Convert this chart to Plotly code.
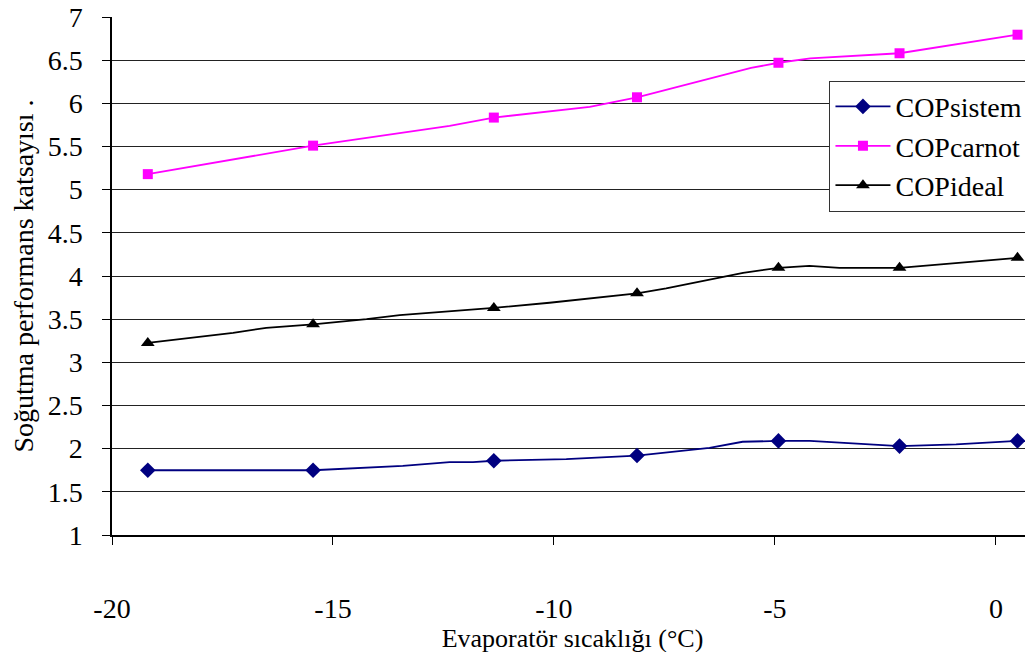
import plotly.graph_objects as go

# Evaporator temperature (°C) at marked points
x_marks = [-19.19, -15.45, -11.36, -8.12, -4.92, -2.18, 0.49]

# COPsistem
sistem_x_line = [-19.19, -15.45, -13.42, -12.36, -11.83, -11.36, -9.72, -8.12, -6.48, -5.73, -4.92, -4.21, -2.18, -0.90, 0.49]
sistem_y_line = [1.75, 1.75, 1.80, 1.845, 1.845, 1.86, 1.88, 1.92, 2.01, 2.08, 2.09, 2.09, 2.03, 2.05, 2.09]
sistem_marks = [1.75, 1.75, 1.86, 1.92, 2.09, 2.03, 2.09]

# COPcarnot
carnot_x_line = [-19.19, -15.45, -12.36, -11.36, -9.19, -8.12, -5.54, -4.92, -4.20, -2.18, 0.49]
carnot_y_line = [5.18, 5.51, 5.74, 5.835, 5.96, 6.07, 6.41, 6.47, 6.52, 6.58, 6.795]
carnot_marks = [5.18, 5.51, 5.835, 6.07, 6.47, 6.58, 6.795]

# COPideal
ideal_x_line = [-19.19, -17.26, -16.51, -15.45, -14.24, -13.49, -11.36, -10.10, -8.12, -7.46, -5.72, -4.92, -4.22, -3.54, -2.18, 0.49]
ideal_y_line = [3.225, 3.34, 3.40, 3.44, 3.50, 3.546, 3.63, 3.69, 3.80, 3.856, 4.037, 4.095, 4.118, 4.095, 4.095, 4.21]
ideal_marks = [3.225, 3.44, 3.63, 3.80, 4.095, 4.095, 4.21]

x_ticks = [-20, -15, -10, -5, 0]
y_ticks = [1, 1.5, 2, 2.5, 3, 3.5, 4, 4.5, 5, 5.5, 6, 6.5, 7]

x_title = "Evaporatör sıcaklığı (°C)"
y_title = "Soğutma performans katsayısı ."

series = [
    ("COPsistem", sistem_x_line, sistem_y_line, sistem_marks, "#000080", "diamond", 12),
    ("COPcarnot", carnot_x_line, carnot_y_line, carnot_marks, "#FF00FF", "square", 10),
    ("COPideal", ideal_x_line, ideal_y_line, ideal_marks, "#000000", "triangle-up", 12),
]

FONT = "Liberation Serif"

fig = go.Figure()
for name, xl, yl, ym, col, sym, sz in series:
    fig.add_trace(go.Scatter(x=xl, y=yl, mode="lines", line=dict(color=col, width=1.8),
                             showlegend=False, hoverinfo="skip"))
    fig.add_trace(go.Scatter(x=x_marks, y=ym, mode="markers",
                             marker=dict(color=col, symbol=sym, size=sz),
                             showlegend=False, name=name))
    fig.add_trace(go.Scatter(x=[None], y=[None], mode="lines+markers", name=name,
                             line=dict(color=col, width=1.8),
                             marker=dict(color=col, symbol=sym, size=sz)))

fig.update_layout(
    width=1033, height=652,
    margin=dict(l=104, r=8, t=9, b=125),
    paper_bgcolor="white", plot_bgcolor="white",
    font=dict(family=FONT, size=26, color="black"),
    showlegend=True,
    legend=dict(x=0.779, y=0.877, xanchor="left", yanchor="top",
                bgcolor="white", bordercolor="#333333", borderwidth=1,
                itemwidth=55, tracegroupgap=0,
                font=dict(family=FONT, size=28, color="black")),
    xaxis=dict(range=[-20, 0.84], tickvals=x_ticks, ticktext=[str(v) for v in x_ticks],
               automargin=False, ticklabeloverflow="allow",
               showgrid=False, zeroline=False, showline=True, linecolor="black", linewidth=1.5,
               ticks="outside", ticklen=8, tickcolor="black", ticklabelstandoff=40,
               tickfont=dict(family=FONT, size=28),
               title=dict(text=x_title, font=dict(family=FONT, size=26), standoff=0)),
    yaxis=dict(range=[1, 7], tickvals=y_ticks, ticktext=[("%g" % v) for v in y_ticks],
               automargin=False, ticklabeloverflow="allow",
               showgrid=True, gridcolor="#222222", gridwidth=1, zeroline=False,
               showline=True, linecolor="black", linewidth=1.5,
               ticks="outside", ticklen=8, tickcolor="black", ticklabelstandoff=14,
               tickfont=dict(family=FONT, size=28),
               title=dict(text=y_title, font=dict(family=FONT, size=28), standoff=10)),
)

fig.write_html("out.html")
